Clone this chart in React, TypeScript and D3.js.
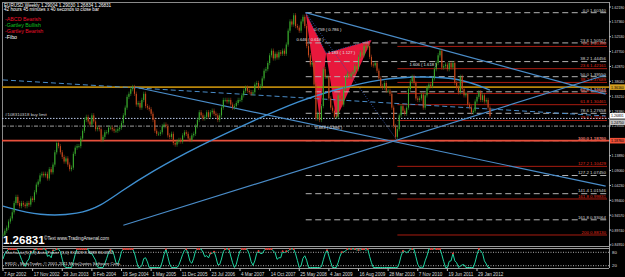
import React from 'react';
import * as d3 from 'd3';

const W = 625;
const H = 277;
const AXIS_X = 609;

// ---- DATA ----
const startDate = '2002-04-07';
// bi-weekly closes
const closes = [
  0.882, 0.895, 0.905, 0.925, 0.935, 0.955, 0.985, 1.005, 0.985, 0.975, 0.985, 0.980, 0.975, 0.985, 0.980, 1.000, 0.995, 1.020, 1.045,
  1.055, 1.075, 1.080, 1.075, 1.080, 1.065, 1.095, 1.085, 1.110, 1.150, 1.180, 1.170, 1.150, 1.135, 1.120, 1.130, 1.110, 1.095, 1.100, 1.145, 1.165, 1.170, 1.170, 1.195, 1.220, 1.255,
  1.265, 1.250, 1.240, 1.270, 1.250, 1.225, 1.230, 1.225, 1.190, 1.200, 1.215, 1.215, 1.230, 1.230, 1.225, 1.220, 1.220, 1.225, 1.230, 1.245, 1.270, 1.295, 1.330, 1.340, 1.355, 1.362,
  1.340, 1.305, 1.310, 1.295, 1.320, 1.340, 1.300, 1.295, 1.290, 1.275, 1.255, 1.220, 1.210, 1.210, 1.215, 1.235, 1.240, 1.235, 1.205, 1.200, 1.210, 1.180, 1.175, 1.185, 1.190, 1.185,
  1.205, 1.215, 1.210, 1.195, 1.190, 1.205, 1.210, 1.235, 1.255, 1.280, 1.270, 1.260, 1.265, 1.280, 1.265, 1.280, 1.285, 1.275, 1.270, 1.255, 1.270, 1.295, 1.320, 1.320, 1.315, 1.320,
  1.305, 1.295, 1.300, 1.310, 1.320, 1.320, 1.335, 1.350, 1.360, 1.350, 1.345, 1.340, 1.345, 1.370, 1.375, 1.360, 1.365, 1.390, 1.415, 1.420, 1.440, 1.465, 1.480, 1.455, 1.470, 1.458,
  1.475, 1.470, 1.480, 1.470, 1.500, 1.545, 1.575, 1.565, 1.595, 1.560, 1.555, 1.545, 1.575, 1.590, 1.560, 1.495, 1.465, 1.435, 1.440, 1.370, 1.260, 1.275, 1.255, 1.300, 1.420, 1.395,
  1.395, 1.325, 1.295, 1.285, 1.265, 1.265, 1.335, 1.325, 1.305, 1.355, 1.395, 1.405, 1.395, 1.405, 1.410, 1.430, 1.420, 1.460, 1.475, 1.465, 1.495, 1.490, 1.495, 1.460, 1.435, 1.432,
  1.440, 1.415, 1.390, 1.365, 1.360, 1.375, 1.350, 1.350, 1.340, 1.295, 1.235, 1.200, 1.225, 1.270, 1.300, 1.285, 1.275, 1.295, 1.355, 1.380, 1.395, 1.375, 1.325, 1.320, 1.325, 1.338,
  1.295, 1.335, 1.360, 1.370, 1.365, 1.390, 1.420, 1.440, 1.465, 1.480, 1.425, 1.430, 1.435, 1.420, 1.440, 1.425, 1.440, 1.375, 1.360, 1.345, 1.395, 1.355, 1.335, 1.340, 1.305, 1.296,
  1.280, 1.285, 1.315, 1.330, 1.345, 1.320, 1.335, 1.315, 1.320, 1.295, 1.268,
];

const timeLabels = ['7 Apr 2002', '17 Nov 2002', '29 Jun 2003', '8 Feb 2004', '19 Sep 2004', '1 May 2005', '11 Dec 2005', '23 Jul 2006', '4 Mar 2007', '14 Oct 2007', '25 May 2008', '4 Jan 2009', '16 Aug 2009', '28 Mar 2010', '7 Nov 2010', '19 Jun 2011', '29 Jan 2012'];
const timeLabelDates = ['2002-04-07', '2002-11-17', '2003-06-29', '2004-02-08', '2004-09-19', '2005-05-01', '2005-12-11', '2006-07-23', '2007-03-04', '2007-10-14', '2008-05-25', '2009-01-04', '2009-08-16', '2010-03-28', '2010-11-07', '2011-06-19', '2012-01-29'];

const priceTicks = [1.6219, 1.5736, 1.5253, 1.477, 1.4287, 1.3804, 1.3321, 1.2838, 1.2355, 1.1872, 1.1389, 1.0906, 1.0423, 0.994, 0.9457, 0.8974, 0.8491];

// slow moving average
const maDates = ['2002-04-07', '2003-01-12', '2003-11-09', '2004-04-11', '2004-09-05', '2005-04-24', '2006-05-07', '2007-05-20', '2008-06-01', '2009-03-29', '2010-01-24', '2010-11-21', '2011-09-25', '2012-05-06'];
const maValues = [0.975, 0.942, 0.949, 0.975, 1.02, 1.085, 1.173, 1.248, 1.319, 1.358, 1.388, 1.397, 1.391, 1.352];

// Fibonacci sets
const greyFibLevels = [0, 23.6, 38.2, 50, 61.8, 78.6, 100, 127.2, 141.4, 161.8];
const greyFibHigh = 1.6034;
const greyFibLow = 1.1876;
const greyFibStart = '2008-07-13';
const redFibLevels = [0, 23.6, 38.2, 50, 61.8, 78.6, 100, 127.2, 161.8, 200];
const redFibHigh = 1.4939;
const redFibLow = 1.1876;
const redFibStart = '2010-06-06';

// harmonic pattern points X A B C D
const patternDates = ['2008-07-13', '2008-10-26', '2008-12-14', '2009-03-01', '2009-11-22'];
const patternPrices = [1.6034, 1.262, 1.472, 1.258, 1.5144];
const ratioLabels = ['0.646 ( 0.618 )', '0.759 ( 0.786 )', '1.183 ( 1.127 )', '1.606 ( 1.618 )', '0.883 ( 0.886 )'];
const ratioDates = ['2008-05-04', '2008-09-14', '2008-12-28', '2010-09-05', '2008-09-21'];
const ratioPrices = [1.51, 1.545, 1.47, 1.43, 1.225];

// trend lines: [date1, price1, date2, price2]
const trendA = ['2008-07-13', 1.6034, '2014-09-28', 1.339];
const trendB = ['2004-12-26', 1.362, '2014-09-28', 1.04];
const trendC = ['2002-04-07', 1.385, '2014-09-28', 1.268];
const trendD = ['2004-10-03', 0.913, '2014-09-28', 1.401];

const goldLevel = 1.3616;
const buyLimit = 1.26;
const dashDotLevel = 1.235;
const lastPrice = 1.26831;

const parse = d3.timeParse('%Y-%m-%d');

export default function App() {
  const x = d3.scaleTime().domain([parse('2002-04-07')!, parse('2012-01-29')!]).range([3, 477]);
  const y = d3.scaleLinear().domain([1.6034, 1.1876]).range([12.7, 140.7]);
  const t0 = parse(startDate)!;
  const bars = closes.map((c, i) => {
    const d = d3.timeDay.offset(t0, i * 14);
    const o = i === 0 ? c : closes[i - 1];
    return { d, o, c };
  });

  // stochastic from closes
  const per = 5;
  const rawK = closes.map((c, i) => {
    const win = closes.slice(Math.max(0, i - per + 1), i + 1);
    const hi = d3.max(win)!, lo = d3.min(win)!;
    return hi === lo ? 50 : ((c - lo) / (hi - lo)) * 100;
  });
  const k = rawK.map((v, i) => d3.mean(rawK.slice(Math.max(0, i - 2), i + 1))!);
  const ys = d3.scaleLinear().domain([20, 80]).range([265.7, 252.3]);

  const maLine = d3.line<number>()
    .x((_, i) => x(parse(maDates[i])!))
    .y((v) => y(v))
    .curve(d3.curveBasis)(maValues)!;

  const stochLine = d3.line<number>()
    .x((_, i) => x(bars[i].d))
    .y((v) => Math.max(249, Math.min(267.5, ys(v))))(k)!;

  const pts = patternDates.map((d, i) => [x(parse(d)!), y(patternPrices[i])]);
  const tri1 = [pts[0], pts[1], pts[2]];
  const tri2 = [pts[2], pts[3], pts[4]];

  const font = 'Liberation Sans, Arial, sans-serif';

  const trend = (t: any[], stroke: string, dash?: string, w = 1) => {
    const x1 = x(parse(t[0])!), y1 = y(t[1]);
    const x2 = x(parse(t[2])!), y2 = y(t[3]);
    return <line x1={x1} y1={y1} x2={x2} y2={y2} stroke={stroke} strokeWidth={w} strokeDasharray={dash} />;
  };

  const fibLines = (levels: number[], hi: number, lo: number, start: string, color: string, dash: string | undefined, labelColor: string) =>
    levels.map((l) => {
      const p = hi - (l / 100) * (hi - lo);
      const yy = y(p);
      return (
        <g key={color + l}>
          <line x1={x(parse(start)!)} x2={AXIS_X - 2} y1={yy} y2={yy} stroke={color} strokeWidth={1} strokeDasharray={dash} />
          <text x={AXIS_X - 3} y={yy - 1.2} fontSize={4.4} fill={labelColor} textAnchor="end" fontFamily={font}>
            {(l === 200 ? '200' : l.toFixed(1)) + '  ' + p.toFixed(5)}
          </text>
        </g>
      );
    });

  return (
    <svg width={W} height={H} style={{ position: 'absolute', left: 0, top: 0, background: '#000' }}>
      <rect x={0} y={0} width={W} height={H} fill="#000" />
      <defs>
        <clipPath id="main"><rect x={2} y={2} width={AXIS_X - 2} height={244} /></clipPath>
      </defs>
      {/* frame */}
      <line x1={2} x2={AXIS_X} y1={2.5} y2={2.5} stroke="#8a8a8a" />
      <line x1={2.5} x2={2.5} y1={2} y2={268} stroke="#8a8a8a" />
      <line x1={AXIS_X + 0.5} x2={AXIS_X + 0.5} y1={2} y2={268} stroke="#9a9a9a" />
      <line x1={2} x2={AXIS_X} y1={246.5} y2={246.5} stroke="#9a9a9a" />
      <line x1={2} x2={AXIS_X} y1={248.5} y2={248.5} stroke="#9a9a9a" />
      <line x1={2} x2={AXIS_X} y1={268.5} y2={268.5} stroke="#9a9a9a" />

      <g clipPath="url(#main)">
        {/* harmonic pattern */}
        <polygon points={tri1.map((p) => p.join(',')).join(' ')} fill="#e8183c" />
        <polygon points={tri2.map((p) => p.join(',')).join(' ')} fill="#e8183c" />
        <line x1={pts[0][0]} y1={pts[0][1]} x2={pts[2][0]} y2={pts[2][1]} stroke="#3050a0" strokeDasharray="1,1.5" />
        <line x1={pts[2][0]} y1={pts[2][1]} x2={pts[4][0]} y2={pts[4][1]} stroke="#3050a0" strokeDasharray="1,1.5" />
        <line x1={pts[0][0]} y1={pts[0][1]} x2={x(parse('2010-06-06')!)} y2={y(1.1876)} stroke="#3050a0" strokeDasharray="1,1.5" />

        {/* horizontal lines */}
        {fibLines(greyFibLevels, greyFibHigh, greyFibLow, greyFibStart, '#b4b4b4', '6,3.5', '#d8d8d8')}
        {fibLines(redFibLevels, redFibHigh, redFibLow, redFibStart, '#a81c10', undefined, '#e02a18')}
        <line x1={2} x2={AXIS_X} y1={y(goldLevel)} y2={y(goldLevel)} stroke="#b8860b" strokeWidth={1.6} />
        <line x1={2} x2={AXIS_X} y1={y(greyFibLow)} y2={y(greyFibLow)} stroke="#e8503c" strokeWidth={1.8} />
        <line x1={2} x2={AXIS_X} y1={y(buyLimit)} y2={y(buyLimit)} stroke="#b8c8e8" strokeDasharray="1.5,1.5" />
        <line x1={2} x2={AXIS_X} y1={y(dashDotLevel)} y2={y(dashDotLevel)} stroke="#a0a0a0" strokeDasharray="4,1.5,1,1.5" />
        <text x={5} y={y(buyLimit) - 2} fontSize={4.4} fill="#d0d0d0" fontFamily={font}>#108310318 buy limit</text>

        {/* trend lines */}
        {trend(trendA, '#4a8cc8', undefined, 1.2)}
        {trend(trendB, '#4a8cc8', undefined, 1.2)}
        {trend(trendC, '#4a8cc8', '5,3', 1)}
        {trend(trendD, '#4a8cc8', undefined, 1.2)}
        <path d={maLine} fill="none" stroke="#3f8fd0" strokeWidth={1.4} />

        {/* candles */}
        {bars.map((b, i) => {
          const xx = x(b.d);
          const y1 = y(Math.max(b.o, b.c));
          const y2 = y(Math.min(b.o, b.c));
          const up = b.c >= b.o;
          return (
            <g key={i}>
              <line x1={xx} x2={xx} y1={y1 - 2.2} y2={y2 + 2.2} stroke={up ? '#2a8a26' : '#a83a18'} strokeWidth={0.6} />
              <rect x={xx - 0.55} y={y1} width={1.1} height={Math.max(0.8, y2 - y1)} fill={up ? '#3aa82c' : '#c84a1c'} />
            </g>
          );
        })}

        {/* ratio labels */}
        {ratioLabels.map((t, i) => (
          <text key={t} x={x(parse(ratioDates[i])!)} y={y(ratioPrices[i])} fontSize={4.2} fill="#e0e0e0" fontFamily={font}>{t}</text>
        ))}

        {/* big price */}
        <text x={3} y={244} fontSize={11.5} fontWeight="bold" fill="#fff" fontFamily={font}>1.26831</text>
        <text x={44} y={239.5} fontSize={4.6} fill="#e8e8e8" fontFamily={font}>©Text www.TradingArsenal.com</text>
      </g>

      {/* header */}
      <text x={4} y={7} fontSize={4.6} fill="#fff" fontFamily={font}>EURUSD,Weekly  1.29004 1.29030 1.26834 1.26831</text>
      <text x={4} y={11.3} fontSize={4.6} fill="#fff" fontFamily={font}>42 hours 45 minutes x 40 seconds to close bar</text>
      <text x={5} y={21.2} fontSize={5.3} fill="#e8102a" fontFamily={font}>-ABCD Bearish</text>
      <text x={5} y={27} fontSize={5.3} fill="#10c020" fontFamily={font}>-Gartley Bullish</text>
      <text x={5} y={32.8} fontSize={5.3} fill="#e8102a" fontFamily={font}>-Gartley Bearish</text>
      <text x={5} y={38.6} fontSize={5.3} fill="#fff" fontFamily={font}>-Fibo</text>

      {/* price axis */}
      {priceTicks.map((p) => (
        <g key={p}>
          <line x1={AXIS_X} x2={AXIS_X + 2} y1={y(p)} y2={y(p)} stroke="#bbb" />
          <text x={AXIS_X + 2.5} y={y(p) + 1.5} fontSize={4.1} fill="#ddd" fontFamily={font} textLength={12.8} lengthAdjust="spacingAndGlyphs">{p.toFixed(5)}</text>
        </g>
      ))}
      {[
        { p: goldLevel, bg: '#d4a020', fg: '#000' },
        { p: lastPrice, bg: '#ffffff', fg: '#000' },
        { p: 1.2475, bg: '#c0c0c0', fg: '#000' },
        { p: greyFibLow, bg: '#f05038', fg: '#000' },
      ].map((m) => (
        <g key={m.p}>
          <rect x={AXIS_X + 1} y={y(m.p) - 2.8} width={15} height={5.6} fill={m.bg} />
          <text x={AXIS_X + 2} y={y(m.p) + 1.5} fontSize={4.1} fill={m.fg} fontFamily={font} textLength={12.8} lengthAdjust="spacingAndGlyphs">{m.p.toFixed(5)}</text>
        </g>
      ))}

      {/* stochastic */}
      <line x1={3} x2={AXIS_X} y1={ys(80)} y2={ys(80)} stroke="#aaa" strokeDasharray="1,1.5" />
      <line x1={3} x2={AXIS_X} y1={ys(20)} y2={ys(20)} stroke="#aaa" strokeDasharray="1,1.5" />
      <path d={stochLine} fill="none" stroke="#1fd3a0" strokeWidth={1} />
      {k.map((v, i) => (i > 0 && i < k.length - 1 && v > 70 && v >= k[i - 1] && v >= k[i + 1] ? (
        <circle key={i} cx={x(bars[i].d)} cy={Math.max(249, ys(v))} r={0.9} fill="#ff3030" />
      ) : null))}
      <text x={5} y={253.5} fontSize={4.2} fill="#e0e0e0" fontFamily={font}>Stochastic(5,3,3) Auto-Power (3,0) 8.0328 8.3989 86.6932</text>
      <text x={5} y={265.3} fontSize={4.2} fill="#e0e0e0" fontFamily={font}>FXDD - MetaTrader, © 2001-2011 MetaQuotes Software Corp.</text>
      <text x={AXIS_X + 3} y={253.6} fontSize={4.4} fill="#ddd" fontFamily={font}>80</text>
      <text x={AXIS_X + 3} y={267} fontSize={4.4} fill="#ddd" fontFamily={font}>20</text>

      {/* time axis */}
      {timeLabels.map((t, i) => {
        const xx = x(parse(timeLabelDates[i])!);
        return (
          <g key={t}>
            <line x1={xx} x2={xx} y1={268.5} y2={271} stroke="#bbb" />
            <text x={xx + 1} y={275.5} fontSize={4.6} fill="#ddd" fontFamily={font}>{t}</text>
          </g>
        );
      })}
    </svg>
  );
}
